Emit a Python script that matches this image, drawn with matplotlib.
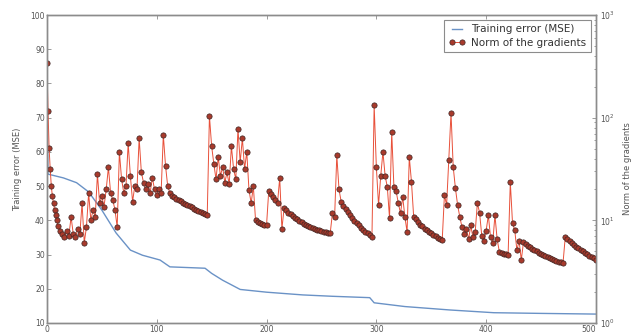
import matplotlib
matplotlib.use("Agg")
import matplotlib.pyplot as plt
from matplotlib.ticker import LogLocator, LogFormatterMathtext

# training error (left axis)
train_epochs = [0, 1, 15, 27, 38, 50, 63, 76, 87, 103, 112, 144, 150, 160, 176,
                200, 233, 260, 294, 298, 326, 367, 407, 450, 500]
train_mse = [75, 53.5, 52.4, 51, 48.3, 43, 36.3, 31.3, 29.8, 28.4, 26.4, 26, 24.5,
             22.5, 19.8, 19, 18.2, 17.8, 17.4, 15.9, 14.8, 13.8, 13.0, 12.8, 12.6]

# gradient norm (right axis, log)
grad_epochs = list(range(0, 10)) + list(range(10, 501, 2))
grad_norm = [
    341, 117, 50.1, 31.6, 21.5, 17.1, 14.7, 12.6, 11.2, 10.0,
    8.9, 7.94, 7.36, 6.81, 7.94, 7.08, 10.8, 7.36, 6.81, 8.25, 7.36, 14.7, 6.06,
    8.58, 18.5, 10.0, 12.6, 10.8,
    28.2, 14.7, 17.1, 13.6, 20.0, 32.9, 18.5, 15.8, 12.6, 8.58, 46.4, 25.1, 18.5,
    21.5, 56.2, 27.1, 15.2, 21.5, 20.0, 63.1, 29.3, 23.3, 20.0, 22.4, 18.5, 26.1,
    20.0, 17.8, 20.0, 18.5, 68.1, 34.1, 21.5, 18.5,
    17.4, 16.9, 16.3, 15.8, 15.4, 14.9, 14.5, 14.1, 13.7, 13.4, 13.0, 12.7, 12.4,
    12.1, 11.8, 11.6, 11.3,
    104, 52.9, 35.5, 25.1, 41.4, 27.1, 33.1, 23.3, 29.3, 22.4, 52.9, 31.6, 25.1,
    77.6, 36.8, 63.1, 31.6, 46.4, 19.8, 14.7, 21.5, 10.0, 9.64, 9.41, 9.26, 9.10,
    8.96,
    19.3, 17.9, 16.7, 15.7, 14.8, 25.9, 8.25, 13.2, 12.5, 11.9, 11.4, 11.0, 10.5,
    10.2, 9.85, 9.55, 9.26, 9.05, 8.84, 8.64, 8.45, 8.32, 8.13, 8.01, 7.89, 7.76,
    7.70, 7.59, 7.53,
    11.7, 10.8, 43.0, 20.0, 15.1, 13.9, 12.9, 12.0, 11.2, 10.5, 9.92, 9.41, 8.91,
    8.51, 8.13, 7.76, 7.47, 7.19, 6.92,
    133, 33.1, 14.1, 27.1, 46.4, 27.1, 21.1, 10.5, 72.4, 21.1, 19.3, 14.7, 11.7,
    16.9, 10.8, 7.70, 41.4,
    23.6, 10.8, 10.2, 9.64, 9.10, 8.71, 8.32, 8.01, 7.70, 7.47, 7.19, 6.97, 6.76,
    6.61, 6.46,
    17.6, 14.1, 38.6, 111, 33.1, 20.6, 14.1, 10.8, 8.58, 7.36, 8.25, 6.56, 8.91,
    6.81, 7.64, 14.7, 11.9, 7.08, 6.31, 7.94, 11.2, 6.81, 6.07, 11.2, 6.56, 4.94,
    4.82, 4.75, 4.68, 4.64,
    23.6, 9.41, 8.07, 5.13, 6.31, 4.11,
    6.12, 5.89, 5.67, 5.45, 5.29, 5.13, 4.97, 4.82, 4.71, 4.57, 4.47, 4.37, 4.27,
    4.17, 4.07, 4.01, 3.95, 3.89, 3.83,
    6.81, 6.51, 6.22, 5.98, 5.75, 5.54, 5.33, 5.17, 4.97, 4.82, 4.68, 4.54, 4.40,
    4.27, 4.14,
]

edge = "#8c8c8c"
txt = "#555555"

fig = plt.figure(figsize=(6.34, 3.34), dpi=100)
ax = fig.add_axes([0.074, 0.033, 0.866, 0.922])
ax2 = ax.twinx()

l1, = ax.plot(train_epochs, train_mse, color="#6a92c6", lw=1.0,
              label="Training error (MSE)")
l2, = ax2.plot(grad_epochs, grad_norm, color="#e8503a", lw=0.7, marker="o",
               markersize=3.8, markerfacecolor="#a83a2c",
               markeredgecolor="#3e2624", markeredgewidth=0.5,
               label="Norm of the gradients")

ax.set_xlim(0, 500)
ax.set_ylim(10, 100)
ax.set_xticks(range(0, 501, 100))
ax.set_yticks(range(10, 101, 10))
ax2.set_yscale("log")
ax2.set_ylim(1, 1000)
ax2.yaxis.set_major_locator(LogLocator(base=10))
ax2.yaxis.set_major_formatter(LogFormatterMathtext())

for a in (ax, ax2):
    for s in a.spines.values():
        s.set_color(edge)
        s.set_linewidth(1.0)
    a.tick_params(direction="in", which="both", colors=edge, labelcolor=txt,
                  labelsize=5.5, length=3, width=0.6, pad=1.5)
    a.tick_params(which="minor", length=1.5)
ax.tick_params(top=True)
ax2.tick_params(axis="y", pad=3)

# keep "500" clear of the 10^0 label in the corner
fig.canvas.draw()
ax.get_xticklabels()[-1].set_horizontalalignment("right")

ax.set_ylabel("Training error (MSE)", fontsize=6, color=txt, labelpad=6)
ax2.set_ylabel("Norm of the gradients", fontsize=6, color=txt, labelpad=6)

leg = ax2.legend([l1, l2], [l1.get_label(), l2.get_label()], loc="upper right",
                 fontsize=7.5, numpoints=2, fancybox=False, framealpha=1,
                 borderaxespad=0.5, handlelength=1.6, handletextpad=0.6,
                 borderpad=0.4, labelspacing=0.3)
leg.get_frame().set_edgecolor(edge)
leg.get_frame().set_linewidth(0.8)
for t in leg.get_texts():
    t.set_color("#333333")

fig.savefig("out.png", dpi=100)
